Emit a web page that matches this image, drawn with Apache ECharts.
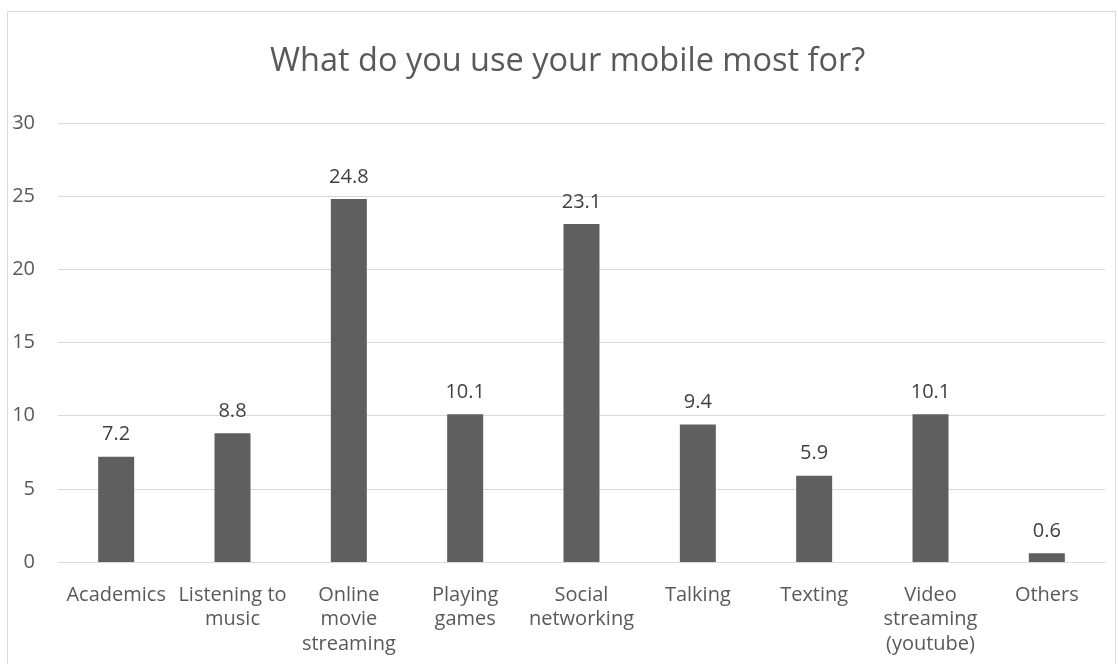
<!DOCTYPE html>
<html><head><meta charset="utf-8">
<script src="https://cdn.jsdelivr.net/npm/echarts@6/dist/echarts.min.js"></script>
<style>html,body{margin:0;padding:0;background:#fff}#c{width:1118px;height:664px}</style>
</head><body><div id="c"></div>
<script>
const title = 'What do you use your mobile most for?';
const categories = ['Academics', 'Listening to\nmusic', 'Online\nmovie\nstreaming', 'Playing\ngames', 'Social\nnetworking', 'Talking', 'Texting', 'Video\nstreaming\n(youtube)', 'Others'];
const values = [7.2, 8.8, 24.8, 10.1, 23.1, 9.4, 5.9, 10.1, 0.6];
const yTicks = [0, 5, 10, 15, 20, 25, 30];

const font = '"Open Sans", sans-serif';
const chart = echarts.init(document.getElementById('c'));
chart.setOption({
  animation: false,
  backgroundColor: '#fff',
  graphic: [{type: 'rect', shape: {x: 7.5, y: 11.5, width: 1108, height: 700}, style: {fill: 'none', stroke: '#d9d9d9', lineWidth: 1}, silent: true}],
  title: {text: title, left: 265, top: 40, textStyle: {fontFamily: font, fontSize: 32.5, fontWeight: 'normal', color: '#595959'}},
  grid: {left: 58, right: 13, top: 123, bottom: 102, containLabel: false},
  xAxis: {
    type: 'category', data: categories,
    axisLine: {show: true, lineStyle: {color: '#d9d9d9'}},
    axisTick: {show: false},
    axisLabel: {interval: 0, fontFamily: font, fontSize: 20, color: '#595959', lineHeight: 24.5, margin: 21}
  },
  yAxis: {
    type: 'value', min: yTicks[0], max: yTicks[yTicks.length - 1], interval: 5,
    axisLine: {show: false}, axisTick: {show: false},
    axisLabel: {fontFamily: font, fontSize: 20, color: '#595959', margin: 23},
    splitLine: {lineStyle: {color: '#d9d9d9', width: 1}}
  },
  series: [{
    type: 'bar', data: values, barWidth: 36,
    itemStyle: {color: '#5f5f5f'},
    label: {show: true, position: 'top', distance: 12, fontFamily: font, fontSize: 20, color: '#404040'}
  }]
});
</script></body></html>
